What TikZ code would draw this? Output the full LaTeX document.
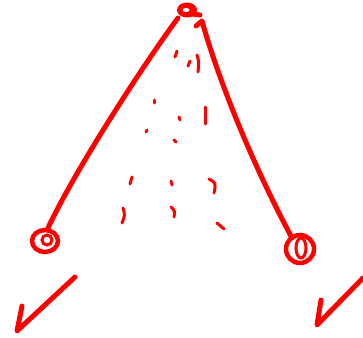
\documentclass[tikz,border=0pt]{standalone}
\usepackage{xcolor}
\usepackage{tikz}
\usetikzlibrary{calc}
\definecolor{inkRed}{RGB}{255, 0, 0}

\begin{document}
\begin{tikzpicture}[
                x=1pt, y=-1pt,
                pen/.style={draw=inkRed, line width=5pt, line cap=round, line join=round},
                dashmark/.style={draw=inkRed, line width=3pt, line cap=round},
                loopmark/.style={draw=inkRed, line width=4.5pt}
            ]
                \useasboundingbox (0,0) rectangle (363,337);

                % Apex blob
                \fill[inkRed] (187,10) ellipse [x radius=10, y radius=7.5];
                \fill[white] (186,10) ellipse [x radius=3.5, y radius=2];
                \draw[pen] (192,14) -- (200,15);

                % Sides of the triangle
                \draw[pen] (178,18) .. controls (148,58) and (76,168) .. (48,228);
                \draw[pen] (196,26) -- (202,21) .. controls (215,68) and (246,152) .. (292,238);

                % End loops
                \draw[loopmark] (45,241) ellipse [x radius=13, y radius=11];
                \draw[loopmark, line width=3pt] (47,240) ellipse [x radius=5, y radius=5];
                \draw[loopmark] (300,249) ellipse [x radius=14, y radius=14];
                \draw[loopmark, line width=3pt] (301,248) ellipse [x radius=5, y radius=10];

                % Dashes inside
                \draw[dashmark] (177,51) -- (175,57);
                \draw[dashmark] (190,61) -- (188,66);
                \draw[dashmark] (197,55) .. controls (199,62) .. (198,72);
                \draw[dashmark] (154,100) -- (154,103);
                \draw[dashmark] (179,117) -- (180,120);
                \draw[dashmark] (205,107) -- (205,124);
                \draw[dashmark] (147,130) -- (146,132);
                \draw[dashmark] (174,140) -- (176,142);
                \draw[dashmark] (132,177) -- (130,184);
                \draw[dashmark] (171,181) -- (172,185);
                \draw[dashmark] (209,179) .. controls (216,183) .. (214,193);
                \draw[dashmark] (123,208) .. controls (125,215) .. (122,223);
                \draw[dashmark] (171,207) .. controls (175,211) .. (174,217);
                \draw[dashmark] (217,223) -- (224,229);

                % Arrow marks
                \draw[pen] (75,277) -- (17,331) -- (22,306);
                \draw[pen] (363,278) -- (317,325) -- (321,300);
            \end{tikzpicture}
\end{document}
